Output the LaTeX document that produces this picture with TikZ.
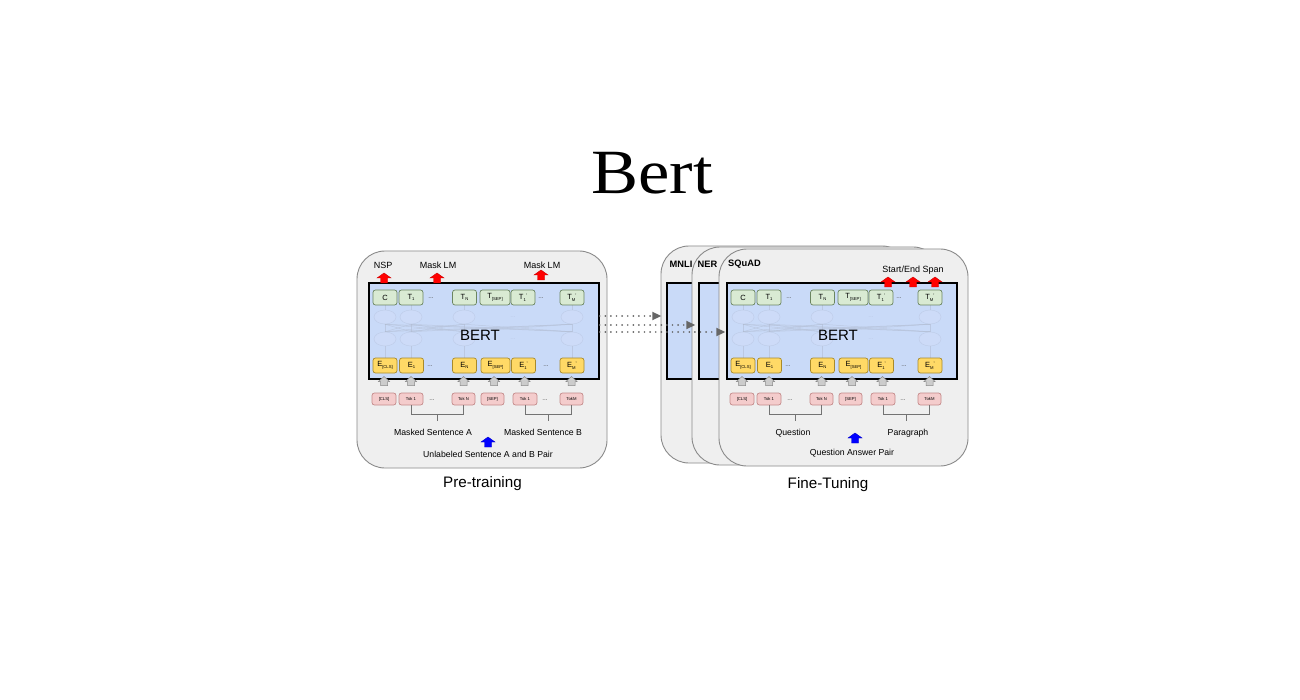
\documentclass[tikz,border=0pt]{standalone}
\usepackage{fontspec}
\setmainfont{Liberation Sans}
\newfontfamily\titlefont{Liberation Serif}
\usetikzlibrary{arrows.meta,calc,shapes.geometric}
\definecolor{panelfill}{HTML}{EFEFEF}
\definecolor{panelline}{HTML}{8A8A8A}
\definecolor{bertblue}{HTML}{C9DAF8}
\definecolor{gfill}{HTML}{D9EAD3}
\definecolor{gborder}{HTML}{6B8560}
\definecolor{yfill}{HTML}{FFD966}
\definecolor{yborder}{HTML}{A88A2B}
\definecolor{pfill}{HTML}{F4CCCC}
\definecolor{pborder}{HTML}{C48A8A}
\definecolor{neurfill}{HTML}{CFDCF8}
\definecolor{neurline}{HTML}{BCCAE6}
\definecolor{netline}{HTML}{B0BBD0}
\definecolor{arrowgray}{HTML}{666666}
\definecolor{garrfill}{HTML}{CCCCCC}
\newcommand\sbt[1]{\raisebox{-0.45ex}{\fontsize{4.2}{4}\selectfont #1}}
\newcommand\prm{\raisebox{0.6ex}{\fontsize{5}{4}\selectfont '}}
\newcommand\redarrow[2]{\filldraw[fill=red, draw=red!80!black, line width=0.4pt] (#1,#2) ++(-3.5,0) -- ++(7,0) -- ++(0,-5) -- ++(3.5,0) -- ++(-7,-5) -- ++(-7,5) -- ++(3.5,0) -- cycle;}
\newcommand\bluearrow[2]{\filldraw[fill=blue, draw=blue!80!black, line width=0.4pt] (#1,#2) ++(-3.5,0) -- ++(7,0) -- ++(0,-5) -- ++(3.5,0) -- ++(-7,-5) -- ++(-7,5) -- ++(3.5,0) -- cycle;}
\newcommand\grayarrow[2]{\filldraw[fill=garrfill, draw=panelline, line width=0.5pt] (#1,#2) ++(-3.5,0) -- ++(7,0) -- ++(0,-4) -- ++(2,0) -- ++(-5.5,-5) -- ++(-5.5,5) -- ++(2,0) -- cycle;}
\newcommand\BertCore[2]{%
\begin{scope}[xshift=#2pt]
\node[bertbox, minimum width=230pt] (#1B) at (484,331) {};
\foreach \a in {385,411,464,572}{%
  \node[neur] (#1u\a) at (\a,317) {};
  \node[neur] (#1d\a) at (\a,339) {};
  \draw[netline] (#1u\a.north) -- ++(0,-6);
  \draw[netline] (#1d\a.south) -- ++(0,12);
}
\foreach \a in {385,411,464,572}{\foreach \b in {385,411,464,572}{%
  \draw[netline] (#1u\a.south) -- (#1d\b.north);}}
\node[dots, text=neurline] (#1nd1) at (513,317) {...};
\node[dots, text=neurline] (#1nd2) at (513,339) {...};
\node[font=\fontsize{15}{15}\selectfont, anchor=base, inner sep=0pt] (#1lab) at (480,341) {BERT};
% top row
\node[tokg, minimum width=24pt] (#1tc) at (385,297.5) {C};
\node[tokg, minimum width=24pt] (#1t1) at (411,297.5) {T\sbt{1}};
\node[dots] (#1td1) at (431,298.5) {...};
\node[tokg, minimum width=24pt] (#1tn) at (464.5,297.5) {T\sbt{N}};
\node[tokg, minimum width=30pt] (#1ts) at (495,297.5) {T\sbt{[SEP]}};
\node[tokg, minimum width=24pt] (#1tp) at (523,297.5) {T\sbt{1}\prm};
\node[dots] (#1td2) at (541,298.5) {...};
\node[tokg, minimum width=24pt] (#1tm) at (572,297.5) {T\sbt{M}\prm};
% bottom row
\node[toky, minimum width=24pt] (#1ec) at (385,365.5) {E\sbt{[CLS]}};
\node[toky, minimum width=24pt] (#1e1) at (411.5,365.5) {E\sbt{1}};
\node[dots] (#1ed1) at (430,366.5) {...};
\node[toky, minimum width=24pt] (#1en) at (464.5,365.5) {E\sbt{N}};
\node[toky, minimum width=29pt] (#1es) at (495.5,365.5) {E\sbt{[SEP]}};
\node[toky, minimum width=24pt] (#1ep) at (523.5,365.5) {E\sbt{1}\prm};
\node[dots] (#1ed2) at (546,366.5) {...};
\node[toky, minimum width=24pt] (#1em) at (572,365.5) {E\sbt{M}\prm};
% gray arrows
\grayarrow{384}{385.5}
\grayarrow{411}{385.5}
\grayarrow{463.5}{385.5}
\grayarrow{494}{385.5}
\grayarrow{524.5}{385.5}
\grayarrow{571.5}{385.5}
% pink tokens
\node[tokp, minimum width=24pt] (#1pc) at (384,399) {[CLS]};
\node[tokp, minimum width=24pt] (#1p1) at (411,399) {Tok 1};
\node[dots] (#1pd1) at (432,400) {...};
\node[tokp, minimum width=23pt] (#1pn) at (463.5,399) {Tok N};
\node[tokp, minimum width=23pt] (#1ps) at (492.5,399) {[SEP]};
\node[tokp, minimum width=24pt] (#1pp) at (525,399) {Tok 1};
\node[dots] (#1pd2) at (545,400) {...};
\node[tokp, minimum width=23pt] (#1pm) at (571.5,399) {TokM};
% brackets
\draw[bracket] (#1p1.south) -- ++(0,9) -| (#1pn.south);
\draw[bracket] ($(#1p1.south)!0.5!(#1pn.south)+(0,9)$) -- ++(0,7);
\draw[bracket] (#1pp.south) -- ++(0,9) -| (#1pm.south);
\draw[bracket] ($(#1pp.south)!0.5!(#1pm.south)+(0,9)$) -- ++(0,7);
\end{scope}}
\begin{document}
\begin{tikzpicture}[x=1pt,y=-1pt,
  panel/.style={draw=panelline, fill=panelfill, line width=0.9pt, rounded corners=28pt, inner sep=0pt},
  bertbox/.style={draw=black, fill=bertblue, line width=1.4pt, inner sep=0pt, minimum height=96pt},
  tok/.style={rounded corners=2.5pt, line width=0.7pt, inner sep=0pt, minimum height=15pt, font=\fontsize{7.5}{8}\selectfont},
  tokg/.style={tok, draw=gborder, fill=gfill},
  toky/.style={tok, draw=yborder, fill=yfill},
  tokp/.style={tok, draw=pborder, fill=pfill, minimum height=12pt, font=\fontsize{4.2}{4}\selectfont},
  dots/.style={font=\fontsize{6.5}{6}\selectfont, text=black!70, inner sep=0pt},
  neur/.style={ellipse, draw=neurline, fill=neurfill, line width=0.5pt, minimum width=22pt, minimum height=14pt, inner sep=0pt, opacity=0.8},
  netline/.style={draw=netline, line width=0.5pt, opacity=0.55},
  bracket/.style={draw=black!55, line width=0.7pt},
  lab9/.style={font=\fontsize{9}{9}\selectfont, inner sep=0pt, anchor=base},
  lab87/.style={font=\fontsize{8.7}{9}\selectfont, inner sep=0pt, anchor=base},
  lab15/.style={font=\fontsize{15.2}{16}\selectfont, inner sep=0pt, anchor=base},
  labb/.style={font=\bfseries\fontsize{9.3}{9}\selectfont, inner sep=0pt, anchor=base},
  dotarrow/.style={draw=arrowgray, line width=1.9pt, dash pattern=on 0pt off 5.6pt, line cap=round, -{Triangle[length=9pt,width=8pt,fill=arrowgray]}}
]
\fill[white] (0,0) rectangle (1300,700);
\useasboundingbox (0,0) rectangle (1300,700);

% title
\node[font=\titlefont\fontsize{63}{63}\selectfont, anchor=base, inner sep=0pt] (title) at (652,194) {\scalebox{1.12}[1]{Bert}};

% pre-training panel
\node[panel, minimum width=250pt, minimum height=217pt] (preP) at (482,359.5) {};
\BertCore{L}{0}
\redarrow{384}{283}
\redarrow{437}{283}
\redarrow{541}{280}
\bluearrow{488}{447}
\node[lab9] (nsp) at (383,268.5) {NSP};
\node[lab9] (mlm1) at (438,268.5) {Mask LM};
\node[lab9] (mlm2) at (542,268.5) {Mask LM};
\node[lab87] (msa) at (433,435) {Masked Sentence A};
\node[lab87] (msb) at (543,435) {Masked Sentence B};
\node[lab87] (unl) at (488,457) {Unlabeled Sentence A and B Pair};
\node[lab15] (pt) at (482.5,487) {Pre-training};

% fine-tuning panels
\node[panel, minimum width=249pt, minimum height=217pt] (mnliP) at (785.5,354.5) {};
\node[bertbox, minimum width=230pt] (mnliB) at (782,331) {};
\node[panel, minimum width=249pt, minimum height=218pt] (nerP) at (816.5,356) {};
\node[bertbox, minimum width=230pt] (nerB) at (814,331) {};
\node[panel, minimum width=249pt, minimum height=217pt] (sqP) at (843.5,357.5) {};
\BertCore{R}{358}
\redarrow{888}{287}
\redarrow{913}{287}
\redarrow{935}{287}
\bluearrow{855}{443}
\node[labb] (mnliL) at (681,267.5) {MNLI};
\node[labb] (nerL) at (707.5,267.5) {NER};
\node[labb] (sqL) at (744.5,266.5) {SQuAD};
\node[lab9] (sesp) at (913,273) {Start/End Span};
\node[lab87] (q) at (793,435.5) {Question};
\node[lab87] (par) at (908,435.5) {Paragraph};
\node[lab87] (qap) at (852,455.5) {Question Answer Pair};
\node[lab15] (ft) at (828,488) {Fine-Tuning};

% dotted transfer arrows
\draw[dotarrow] ([yshift=15pt]LB.east) -- ([yshift=15pt,xshift=-5pt]mnliB.west);
\draw[dotarrow] ([yshift=6pt]LB.east) -- ([yshift=6pt,xshift=-3pt]nerB.west);
\draw[dotarrow] ([yshift=-1pt]LB.east) -- ([yshift=-1pt,xshift=-1pt]RB.west);
\end{tikzpicture}
\end{document}
